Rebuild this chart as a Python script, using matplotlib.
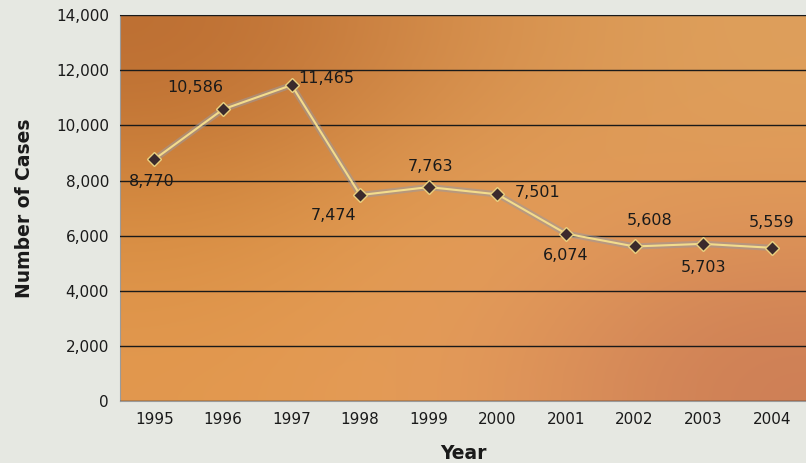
import matplotlib.pyplot as plt
import numpy as np

years = ["1995", "1996", "1997", "1998", "1999", "2000", "2001", "2002", "2003", "2004"]
cases = [8770, 10586, 11465, 7474, 7763, 7501, 6074, 5608, 5703, 5559]
labels = ["8,770", "10,586", "11,465", "7,474", "7,763", "7,501", "6,074", "5,608", "5,703", "5,559"]
# label offsets in points (x, y) relative to the marker
offsets = [(-2, -16), (-20, 16), (25, 5), (-19, -15), (1, 15), (29, 1), (0, -16), (11, 19), (0, -17), (0, 18)]

fig = plt.figure(figsize=(8.06, 4.63), dpi=100)
fig.patch.set_facecolor("#e6e8e2")
ax = fig.add_axes([0.149, 0.134, 0.851, 0.833])

# background gradient of the plot area
grad = np.array([
    [[188, 110, 50], [214, 143, 76], [222, 160, 92]],
    [[214, 140, 64], [230, 162, 90], [225, 152, 88]],
    [[226, 152, 78], [230, 158, 92], [205, 126, 86]],
]) / 255.0
ax.imshow(grad, extent=[-0.5, 9.5, 0, 14000], aspect="auto", interpolation="bicubic", zorder=0)

x = np.arange(len(years))
ax.plot(x, cases, color="#9a9aa0", lw=4.5, alpha=0.55, zorder=3)
ax.plot(x, cases, color="#f3dc8c", lw=1.5, zorder=4)
ax.plot(x, cases, ls="none", marker="D", ms=7, mfc="#3b2a2c", mec="#e8d080", mew=1.0, zorder=5)

for xi, yi, lab, off in zip(x, cases, labels, offsets):
    ax.annotate(lab, (xi, yi), xytext=off, textcoords="offset points",
                ha="center", va="center", fontsize=11.5, color="#1a1a1a", zorder=6)

ax.set_xlim(-0.5, 9.5)
ax.set_ylim(0, 14000)
ax.set_yticks(range(0, 14001, 2000))
ax.set_yticklabels([f"{v:,}" for v in range(0, 14001, 2000)])
ax.set_xticks(x)
ax.set_xticklabels(years)
ax.grid(axis="y", color="#1a1a1a", lw=1.0, zorder=2)
ax.set_axisbelow(False)
ax.tick_params(length=0, labelsize=11, colors="#1a1a1a", pad=8)
for s in ["left", "bottom", "top"]:
    ax.spines[s].set_color("#9a9a9a")
ax.spines["right"].set_visible(False)

ax.set_xlabel("Year", fontsize=13.5, fontweight="bold", color="#1a1a1a", labelpad=12)
ax.set_ylabel("Number of Cases", fontsize=13.5, fontweight="bold", color="#1a1a1a", labelpad=16)

fig.savefig("out.png", dpi=100, facecolor=fig.get_facecolor())
